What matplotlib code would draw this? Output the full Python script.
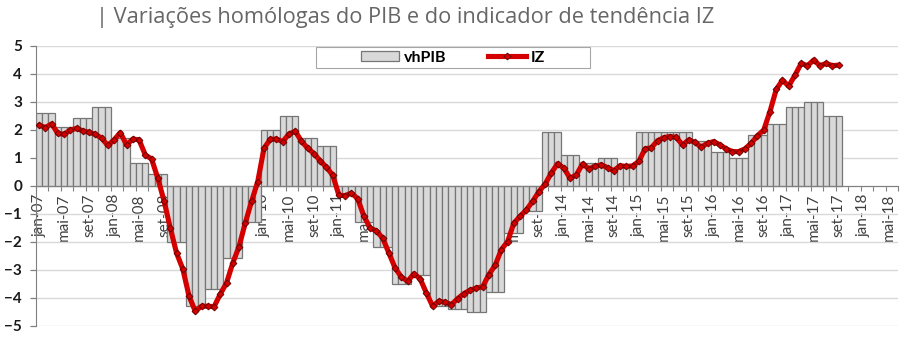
import numpy as np
import matplotlib
matplotlib.use('Agg')
import matplotlib.pyplot as plt
from matplotlib.patches import Rectangle, Patch
from matplotlib.lines import Line2D

# ---------------- data ----------------
n_months = 138  # jan-07 ... jun-18 (category axis)

tick_labels = ['jan-07', 'mai-07', 'set-07', 'jan-08', 'mai-08', 'set-08',
               'jan-09', 'mai-09', 'set-09', 'jan-10', 'mai-10', 'set-10',
               'jan-11', 'mai-11', 'set-11', 'jan-12', 'mai-12', 'set-12',
               'jan-13', 'mai-13', 'set-13', 'jan-14', 'mai-14', 'set-14',
               'jan-15', 'mai-15', 'set-15', 'jan-16', 'mai-16', 'set-16',
               'jan-17', 'mai-17', 'set-17', 'jan-18', 'mai-18']

# quarterly y-o-y GDP growth (Q1-07 ... Q3-17), shown for each month of the quarter
vhpib_quarterly = [2.6, 2.1, 2.4, 2.8,
                   1.7, 0.8, 0.4, -2.0,
                   -4.3, -3.7, -2.6, -1.3,
                   2.0, 2.5, 1.7, 1.4,
                   -0.3, -1.3, -2.2, -3.5,
                   -3.2, -4.3, -4.4, -4.5,
                   -3.8, -1.7, -0.9, 1.9,
                   1.1, 0.8, 1.0, 0.7,
                   1.9, 1.9, 1.9, 1.6,
                   1.2, 1.0, 1.8, 2.2,
                   2.8, 3.0, 2.5]

# monthly IZ indicator (jan-07 ... set-17)
iz_monthly = [2.16, 2.07, 2.20, 1.86, 1.83, 1.98, 2.04, 1.95, 1.90, 1.83, 1.69, 1.43,
              1.63, 1.89, 1.45, 1.66, 1.63, 1.09, 0.95, 0.26, -0.55, -1.52, -2.41, -2.98,
              -3.95, -4.49, -4.31, -4.31, -4.33, -3.88, -3.48, -2.77, -2.18, -1.34, -0.57, 0.14,
              1.33, 1.65, 1.66, 1.57, 1.84, 1.94, 1.58, 1.33, 1.14, 0.88, 0.65, 0.37,
              -0.35, -0.36, -0.27, -0.47, -1.10, -1.52, -1.62, -1.88, -2.41, -2.95, -3.27, -3.42,
              -3.15, -3.33, -3.84, -4.31, -4.13, -4.17, -4.25, -4.04, -3.86, -3.74, -3.66, -3.62,
              -3.18, -2.85, -2.29, -2.00, -1.34, -1.10, -0.87, -0.57, -0.22, 0.05, 0.45, 0.78,
              0.62, 0.26, 0.38, 0.77, 0.60, 0.68, 0.74, 0.64, 0.53, 0.71, 0.68, 0.70,
              0.86, 1.31, 1.35, 1.60, 1.71, 1.75, 1.72, 1.45, 1.63, 1.54, 1.37, 1.51,
              1.57, 1.45, 1.31, 1.21, 1.21, 1.31, 1.51, 1.78, 1.98, 2.64, 3.43, 3.76,
              3.55, 3.94, 4.36, 4.28, 4.48, 4.28, 4.36, 4.28, 4.30]

title = '| Variações homólogas do PIB e do indicador de tendência IZ'

# ---------------- styling ----------------
RED = '#d40000'
BAR_FACE = '#d9d9d9'
BAR_EDGE = '#767676'
FONT = 'Lato'

plt.rcParams['font.family'] = [FONT, 'DejaVu Sans']

fig = plt.figure(figsize=(9, 3.62), dpi=100)
ax = fig.add_axes([0.04, 0.1008, 0.9578, 0.7735])

vhpib_monthly = np.repeat(vhpib_quarterly, 3)
ax.bar(np.arange(len(vhpib_monthly)), vhpib_monthly, width=1.0,
       color=BAR_FACE, edgecolor=BAR_EDGE, linewidth=0.9, zorder=2)

ax.plot(np.arange(len(iz_monthly)), iz_monthly, color=RED, lw=3.7,
        marker='D', ms=3.5, mfc=RED, mec='#5a0000', mew=0.6, zorder=4,
        solid_joinstyle='round', solid_capstyle='round')

ax.set_xlim(-0.5, n_months - 0.5)
ax.set_ylim(-5, 5)

ax.set_yticks(range(-5, 6))
ax.yaxis.grid(True, color='#d9d9d9', lw=1.0)
ax.set_axisbelow(True)
for s in ['top', 'right']:
    ax.spines[s].set_visible(False)
ax.spines['bottom'].set_position(('data', 0))
ax.spines['bottom'].set_color('#808080')
ax.spines['left'].set_color('#808080')
ax.spines['bottom'].set_zorder(3)

ax.tick_params(axis='y', direction='out', length=4, width=0.9, color='#808080',
               pad=6, labelsize=11, labelcolor='#1a1a1a')
for lab in ax.get_yticklabels():
    lab.set_fontweight('bold')

ax.set_xticks(np.arange(0, n_months, 4))
ax.set_xticklabels(tick_labels, rotation=90, fontsize=11, color='#404040')
ax.tick_params(axis='x', which='major', length=0, pad=5.5)
ax.set_xticks(np.arange(-0.5, n_months, 2), minor=True)
ax.tick_params(axis='x', which='minor', direction='out', length=3.5, width=0.8, color='#808080')

# legend box
rect = Rectangle((0.3248, 0.9186), 0.318, 0.0771, transform=ax.transAxes,
                 facecolor='white', edgecolor='#a6a6a6', lw=0.8, zorder=5, clip_on=False)
ax.add_patch(rect)
handles = [Patch(facecolor=BAR_FACE, edgecolor=BAR_EDGE, lw=0.9),
           Line2D([], [], color=RED, lw=3.7, marker='D', ms=3.5, mfc=RED,
                  mec='#5a0000', mew=0.6)]
leg = ax.legend(handles, ['vhPIB', 'IZ'], loc='center', bbox_to_anchor=(0.4838, 0.957),
                frameon=False, ncol=2, handlelength=2.4, handleheight=0.68,
                columnspacing=2.6, handletextpad=0.3, numpoints=1,
                prop={'weight': 'bold', 'size': 11.5, 'family': FONT})
leg.set_zorder(6)

fig.text(0.107, 0.953, title, fontsize=15.7, color='#666666', ha='left', va='center',
         family=['Open Sans', 'DejaVu Sans'])

fig.savefig('out.png', dpi=100)
